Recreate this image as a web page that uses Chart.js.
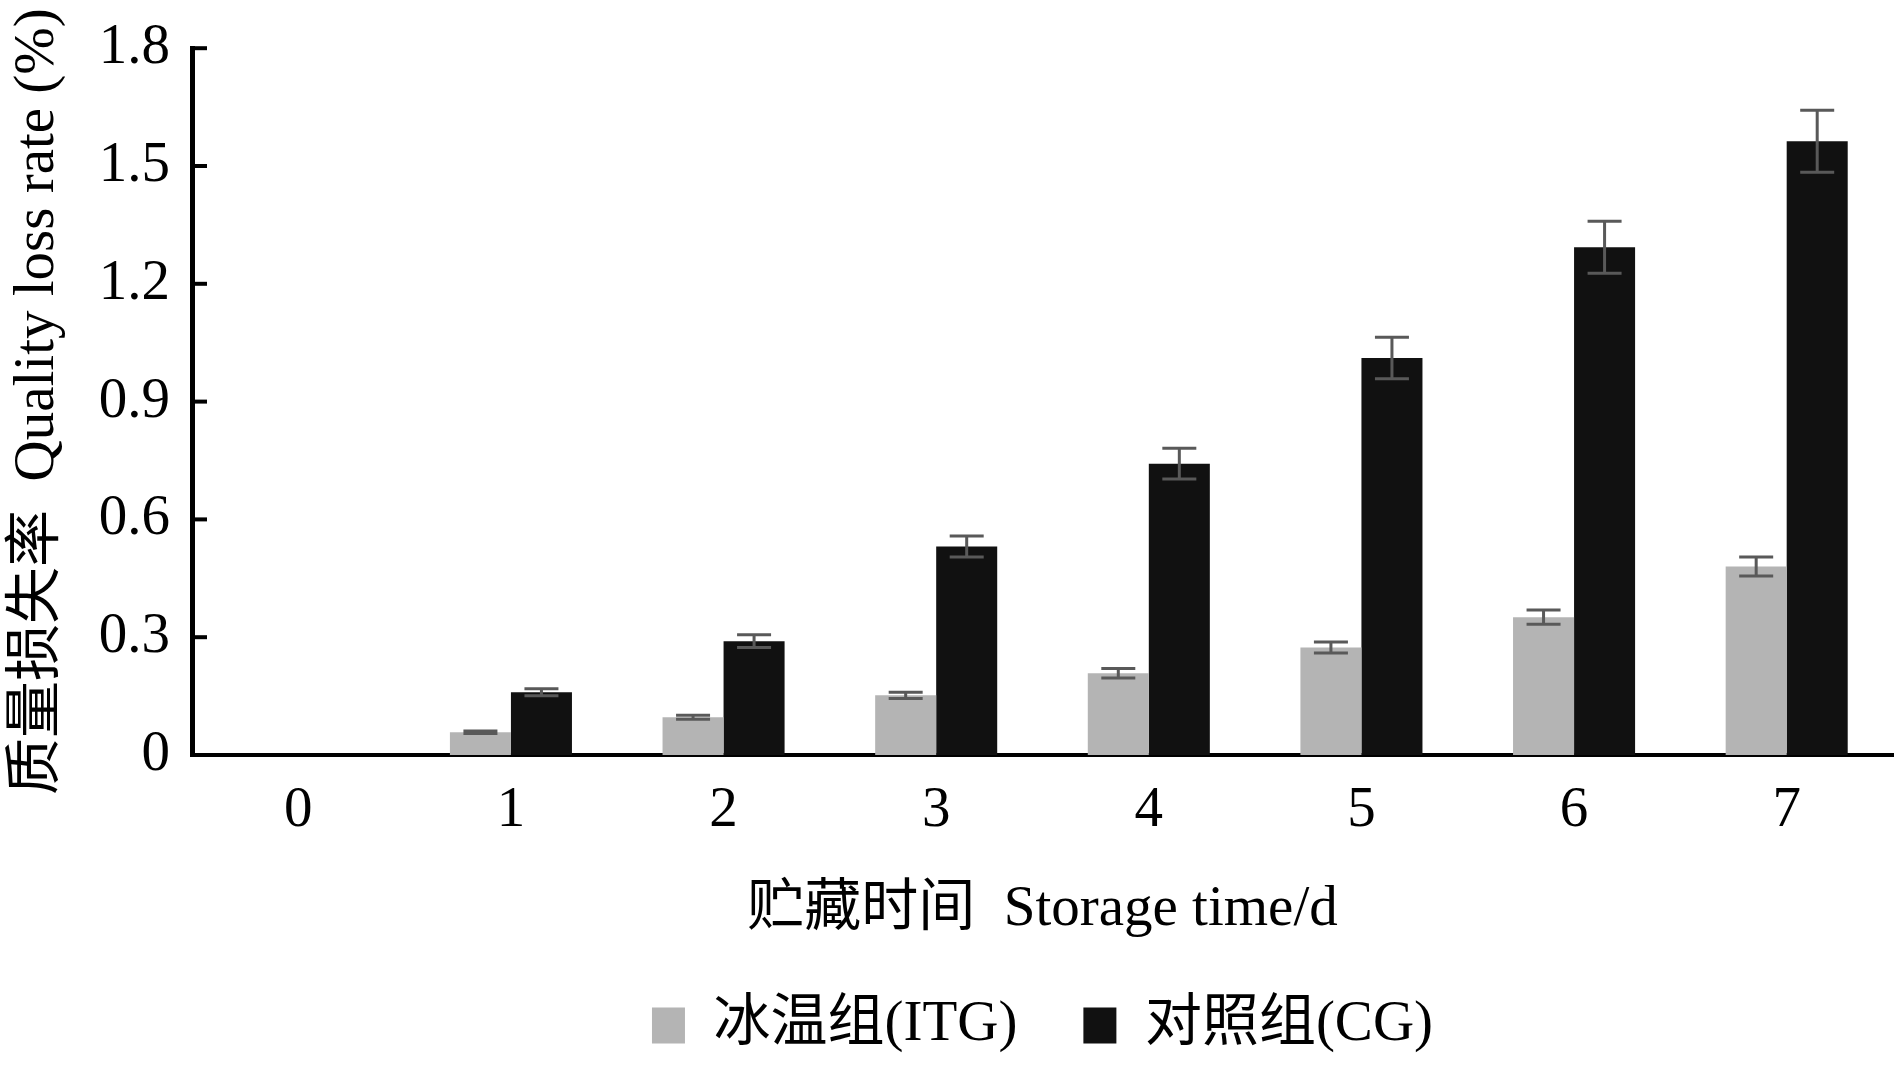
<!DOCTYPE html>
<html>
<head>
<meta charset="utf-8">
<script src="https://cdn.jsdelivr.net/npm/chart.js@4.4.1/dist/chart.umd.min.js"></script>
<style>
  html, body { margin: 0; padding: 0; background: #fff; }
  canvas { display: block; }
</style>
</head>
<body>
<canvas id="g-perda" width="1894" height="1065"></canvas>
<script>
var dias = ['0', '1', '2', '3', '4', '5', '6', '7'];
var itg = [0, 0.058, 0.096, 0.152, 0.208, 0.274, 0.351, 0.480];
var itgErr = [0, 0.003, 0.005, 0.008, 0.012, 0.014, 0.018, 0.024];
var cg = [0, 0.160, 0.290, 0.531, 0.742, 1.011, 1.293, 1.563];
var cgErr = [0, 0.009, 0.016, 0.027, 0.039, 0.053, 0.066, 0.079];
var yTicks = ['0', '0.3', '0.6', '0.9', '1.2', '1.5', '1.8'];

var fonte = '"Liberation Serif", "Times New Roman", "Noto Sans CJK SC", serif';
var erros = [itgErr, cgErr];

// error bars drawn over the bars
var barrasErro = {
    id: 'barrasErro',
    afterDatasetsDraw: function (chart) {
        var ctx = chart.ctx;
        var y = chart.scales.y;
        ctx.save();
        ctx.strokeStyle = '#595959';
        ctx.lineWidth = 3;
        chart.data.datasets.forEach(function (ds, i) {
            var meta = chart.getDatasetMeta(i);
            meta.data.forEach(function (bar, j) {
                var v = ds.data[j];
                if (!v) return;
                var e = erros[i][j];
                var t = y.getPixelForValue(v + e);
                var b = y.getPixelForValue(v - e);
                ctx.beginPath();
                ctx.moveTo(bar.x, t);
                ctx.lineTo(bar.x, b);
                ctx.moveTo(bar.x - 17, t);
                ctx.lineTo(bar.x + 17, t);
                ctx.moveTo(bar.x - 17, b);
                ctx.lineTo(bar.x + 17, b);
                ctx.stroke();
            });
        });
        ctx.restore();
    }
};

// y tick marks point into the plot
var marcasY = {
    id: 'marcasY',
    afterDraw: function (chart) {
        var ctx = chart.ctx;
        var y = chart.scales.y;
        var x0 = chart.chartArea.left;
        ctx.save();
        ctx.strokeStyle = '#000';
        ctx.lineWidth = 4;
        y.ticks.forEach(function (t, i) {
            var py = y.getPixelForTick(i);
            ctx.beginPath();
            ctx.moveTo(x0, py);
            ctx.lineTo(x0 + 15, py);
            ctx.stroke();
        });
        ctx.restore();
    }
};

var ctxPerda = document.getElementById('g-perda');

var gPerda = new Chart(ctxPerda, {
    type: 'bar',
    data: {
        labels: dias,
        datasets: [
            {
                label: '冰温组(ITG)',
                data: itg,
                backgroundColor: '#b4b4b4',
                borderWidth: 0
            },
            {
                label: '对照组(CG)',
                data: cg,
                backgroundColor: '#111111',
                borderWidth: 0
            }
        ]
    },
    options: {
        responsive: false,
        animation: false,
        devicePixelRatio: 1,
        layout: {
            padding: { top: 37, right: 1, bottom: 1, left: 0 }
        },
        datasets: {
            bar: { categoryPercentage: 0.574, barPercentage: 1 }
        },
        scales: {
            x: {
                grid: { display: false },
                border: { display: true, color: '#000', width: 4 },
                ticks: {
                    color: '#000',
                    padding: 14,
                    font: { family: fonte, size: 57 }
                },
                title: {
                    display: true,
                    text: '贮藏时间  Storage time/d',
                    color: '#000',
                    font: { family: fonte, size: 57 },
                    padding: { top: 0, bottom: -13 }
                },
                afterFit: function (s) { s.height = 176; }
            },
            y: {
                min: 0,
                max: 1.8,
                grid: { display: false },
                border: { display: true, color: '#000', width: 5 },
                ticks: {
                    stepSize: 0.3,
                    color: '#000',
                    padding: 14,
                    font: { family: fonte, size: 57 },
                    callback: function (v, i) { return yTicks[i]; }
                },
                title: {
                    display: true,
                    text: '质量损失率  Quality loss rate (%)',
                    color: '#000',
                    font: { family: fonte, size: 57 },
                    padding: { top: 4, bottom: 0 }
                },
                afterFit: function (s) { s.width = 192; }
            }
        },
        plugins: {
            legend: {
                position: 'bottom',
                fullSize: false,
                labels: {
                    color: '#000',
                    boxWidth: 33,
                    boxHeight: 36,
                    padding: 66,
                    font: { family: fonte, size: 57 }
                }
            },
            title: { display: false },
            tooltip: { enabled: false }
        }
    },
    plugins: [barrasErro, marcasY]
});
</script>
</body>
</html>
